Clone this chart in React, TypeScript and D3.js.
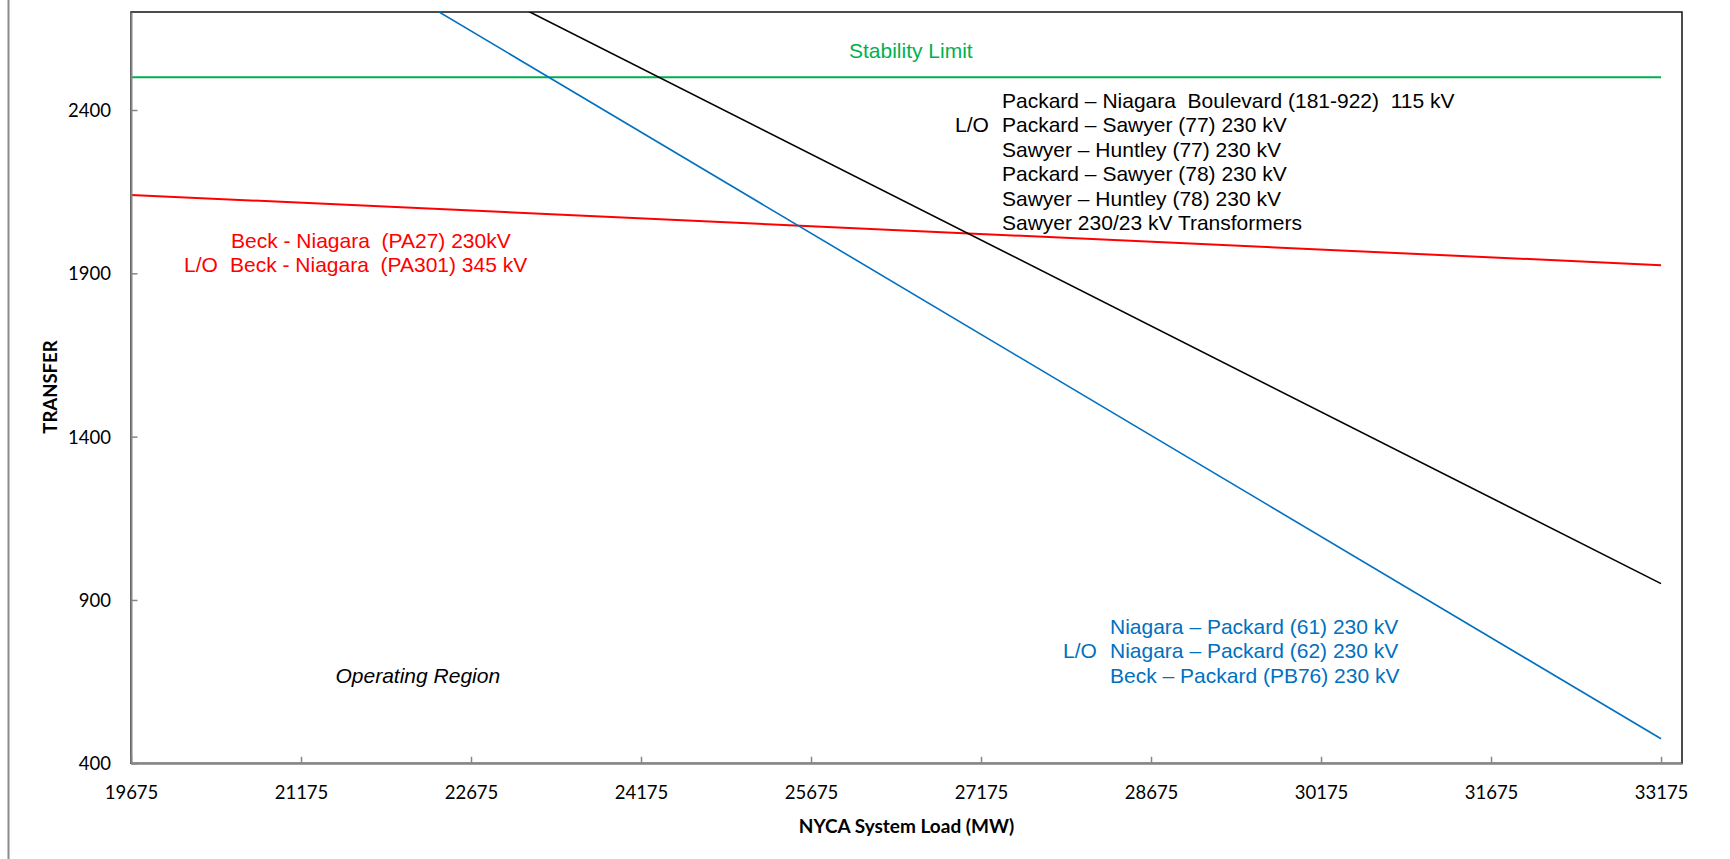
import React, { useRef, useEffect } from 'react';
import * as d3 from 'd3';

// NYCA system load (MW) at the ends of each limit line
const loads = [19675, 33175];
// transfer limits (MW) at those loads
const stabilityLimit = [2500, 2500];
const beckNiagara = [2140, 1925];
const packardSawyer = [3317, 950];
const niagaraPackard = [3261, 475];

const xTickValues = [19675, 21175, 22675, 24175, 25675, 27175, 28675, 30175, 31675, 33175];
const yTickValues = [400, 900, 1400, 1900, 2400];

const stabilityLabel = 'Stability Limit';
const blackLabel = [
  'Packard – Niagara  Boulevard (181-922)  115 kV',
  'Packard – Sawyer (77) 230 kV',
  'Sawyer – Huntley (77) 230 kV',
  'Packard – Sawyer (78) 230 kV',
  'Sawyer – Huntley (78) 230 kV',
  'Sawyer 230/23 kV Transformers',
];
const redLabel = ['Beck - Niagara  (PA27) 230kV', 'Beck - Niagara  (PA301) 345 kV'];
const blueLabel = [
  'Niagara – Packard (61) 230 kV',
  'Niagara – Packard (62) 230 kV',
  'Beck – Packard (PB76) 230 kV',
];
const regionLabel = 'Operating Region';

const WIDTH = 1730;
const HEIGHT = 859;
const plot = { left: 131, right: 1682, top: 12, bottom: 763.3 };

const TEXT_FONT = '"Liberation Sans", Arial, sans-serif';
const AXIS_FONT = 'Lato, "Open Sans", sans-serif';

const App: React.FC = () => {
  const svgRef = useRef<SVGSVGElement>(null);

  useEffect(() => {
    if (!svgRef.current) return;
    const svg = d3.select(svgRef.current);
    svg.selectAll('*').remove();

    const x = d3.scaleLinear().domain([19675, 33360]).range([plot.left, plot.right]);
    const y = d3.scaleLinear().domain([400, 2700]).range([plot.bottom, plot.top]);

    // page edge line on the left
    svg.append('line')
      .attr('x1', 8.5).attr('x2', 8.5)
      .attr('y1', 0).attr('y2', HEIGHT)
      .attr('stroke', '#8c8c8c')
      .attr('stroke-width', 2);

    svg.append('defs').append('clipPath').attr('id', 'plot-clip')
      .append('rect')
      .attr('x', plot.left).attr('y', plot.top)
      .attr('width', plot.right - plot.left)
      .attr('height', plot.bottom - plot.top);

    // plot area border
    svg.append('rect')
      .attr('x', plot.left).attr('y', plot.top)
      .attr('width', plot.right - plot.left)
      .attr('height', plot.bottom - plot.top)
      .attr('fill', 'none')
      .attr('stroke', '#111')
      .attr('stroke-width', 1.5);

    // lines
    const series = [
      { values: stabilityLimit, color: '#00B050', width: 2 },
      { values: beckNiagara, color: '#FF0000', width: 2 },
      { values: packardSawyer, color: '#000000', width: 1.6 },
      { values: niagaraPackard, color: '#0070C0', width: 1.6 },
    ];
    const line = d3.line<number>()
      .x((_, i) => x(loads[i]))
      .y(d => y(d));

    svg.append('g')
      .attr('clip-path', 'url(#plot-clip)')
      .selectAll('path')
      .data(series)
      .enter().append('path')
      .attr('d', d => line(d.values))
      .attr('fill', 'none')
      .attr('stroke', d => d.color)
      .attr('stroke-width', d => d.width);

    // Y axis
    const yAxis = d3.axisLeft(y)
      .tickValues(yTickValues)
      .tickSizeInner(-6.5)
      .tickSizeOuter(0)
      .tickPadding(20)
      .tickFormat(d3.format('d'));
    const gy = svg.append('g')
      .attr('transform', `translate(${plot.left},0)`)
      .call(yAxis)
      .attr('font-family', AXIS_FONT)
      .attr('font-size', 18.5);
    gy.select('.domain').attr('stroke', '#868686').attr('stroke-width', 2);
    gy.selectAll('.tick line').attr('stroke', '#868686').attr('stroke-width', 1.5);
    gy.selectAll('.tick text').attr('fill', '#000').attr('dy', '0.36em');

    // X axis
    const xAxis = d3.axisBottom(x)
      .tickValues(xTickValues)
      .tickSizeInner(-6.5)
      .tickSizeOuter(0)
      .tickPadding(23)
      .tickFormat(d3.format('d'));
    const gx = svg.append('g')
      .attr('transform', `translate(0,${plot.bottom})`)
      .call(xAxis)
      .attr('font-family', AXIS_FONT)
      .attr('font-size', 18.5);
    gx.select('.domain').attr('stroke', '#868686').attr('stroke-width', 2);
    gx.selectAll('.tick line').attr('stroke', '#868686').attr('stroke-width', 1.5);
    gx.selectAll('.tick text').attr('fill', '#000');

    // axis titles
    svg.append('text')
      .attr('x', (plot.left + plot.right) / 2)
      .attr('y', 833)
      .attr('text-anchor', 'middle')
      .attr('font-family', AXIS_FONT)
      .attr('font-weight', 'bold')
      .attr('font-size', 19)
      .text('NYCA System Load (MW)');

    svg.append('text')
      .attr('transform', 'translate(57,387) rotate(-90)')
      .attr('text-anchor', 'middle')
      .attr('font-family', AXIS_FONT)
      .attr('font-weight', 'bold')
      .attr('font-size', 18.5)
      .text('TRANSFER');

    // annotations
    const note = (tx: number, ty: number, s: string, color: string, italic = false) =>
      svg.append('text')
        .attr('x', tx).attr('y', ty)
        .attr('font-family', TEXT_FONT)
        .attr('font-size', 21)
        .attr('font-style', italic ? 'italic' : 'normal')
        .attr('fill', color)
        .style('white-space', 'pre')
        .text(s);

    note(849, 58, stabilityLabel, '#00B050');

    const blackY = [108.3, 132.3, 156.7, 181.3, 205.7, 230];
    blackLabel.forEach((s, i) => note(1002, blackY[i], s, '#000'));
    note(955, blackY[1], 'L/O', '#000');

    note(231, 248.3, redLabel[0], '#FF0000');
    note(230, 272.3, redLabel[1], '#FF0000');
    note(184, 272.3, 'L/O', '#FF0000');

    const blueY = [634, 658.3, 682.7];
    blueLabel.forEach((s, i) => note(1110, blueY[i], s, '#0070C0'));
    note(1063, blueY[1], 'L/O', '#0070C0');

    note(335.5, 683, regionLabel, '#000', true);
  }, []);

  return (
    <svg
      ref={svgRef}
      width={WIDTH}
      height={HEIGHT}
      style={{ position: 'absolute', left: 0, top: 0, background: '#fff' }}
    />
  );
};

export default App;
